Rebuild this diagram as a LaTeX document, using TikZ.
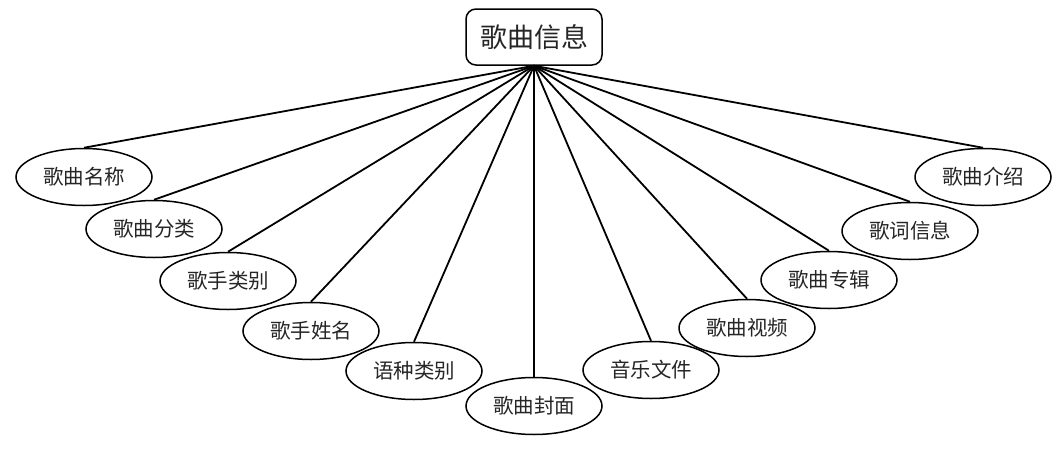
\documentclass[tikz,border=0pt]{standalone}
\usepackage{fontspec}
\newfontfamily\cjk{Noto Sans CJK SC}
\usetikzlibrary{shapes.geometric}
\begin{document}
\begin{tikzpicture}[x=1pt,y=-1pt,
  attr/.style={ellipse, draw, line width=1.5pt, minimum width=136pt, minimum height=57pt, inner sep=0pt, text=black!85, font=\cjk\fontsize{20.5}{20.5}\selectfont},
  entity/.style={rectangle, rounded corners=10pt, draw, line width=1.5pt, minimum width=136pt, minimum height=56pt, inner sep=0pt, text=black!85, font=\cjk\fontsize{27}{27}\selectfont},
  link/.style={line width=1.8pt}]
\useasboundingbox (0,0) rectangle (1061,466);
\node[entity] (top) at (534,37) {歌曲信息};
\node[attr] (a1) at (84,177) {歌曲名称};
\node[attr] (a2) at (154,229) {歌曲分类};
\node[attr] (a3) at (228,281) {歌手类别};
\node[attr] (a4) at (311,331) {歌手姓名};
\node[attr] (a5) at (414,371) {语种类别};
\node[attr] (a6) at (534,406) {歌曲封面};
\node[attr] (a7) at (651,370) {音乐文件};
\node[attr] (a8) at (747,328) {歌曲视频};
\node[attr] (a9) at (829,280) {歌曲专辑};
\node[attr] (a10) at (910,231) {歌词信息};
\node[attr] (a11) at (983,177) {歌曲介绍};
\foreach \i in {1,...,11}{
  \draw[link] (top.south) -- (a\i.north);
}
\end{tikzpicture}
\end{document}
